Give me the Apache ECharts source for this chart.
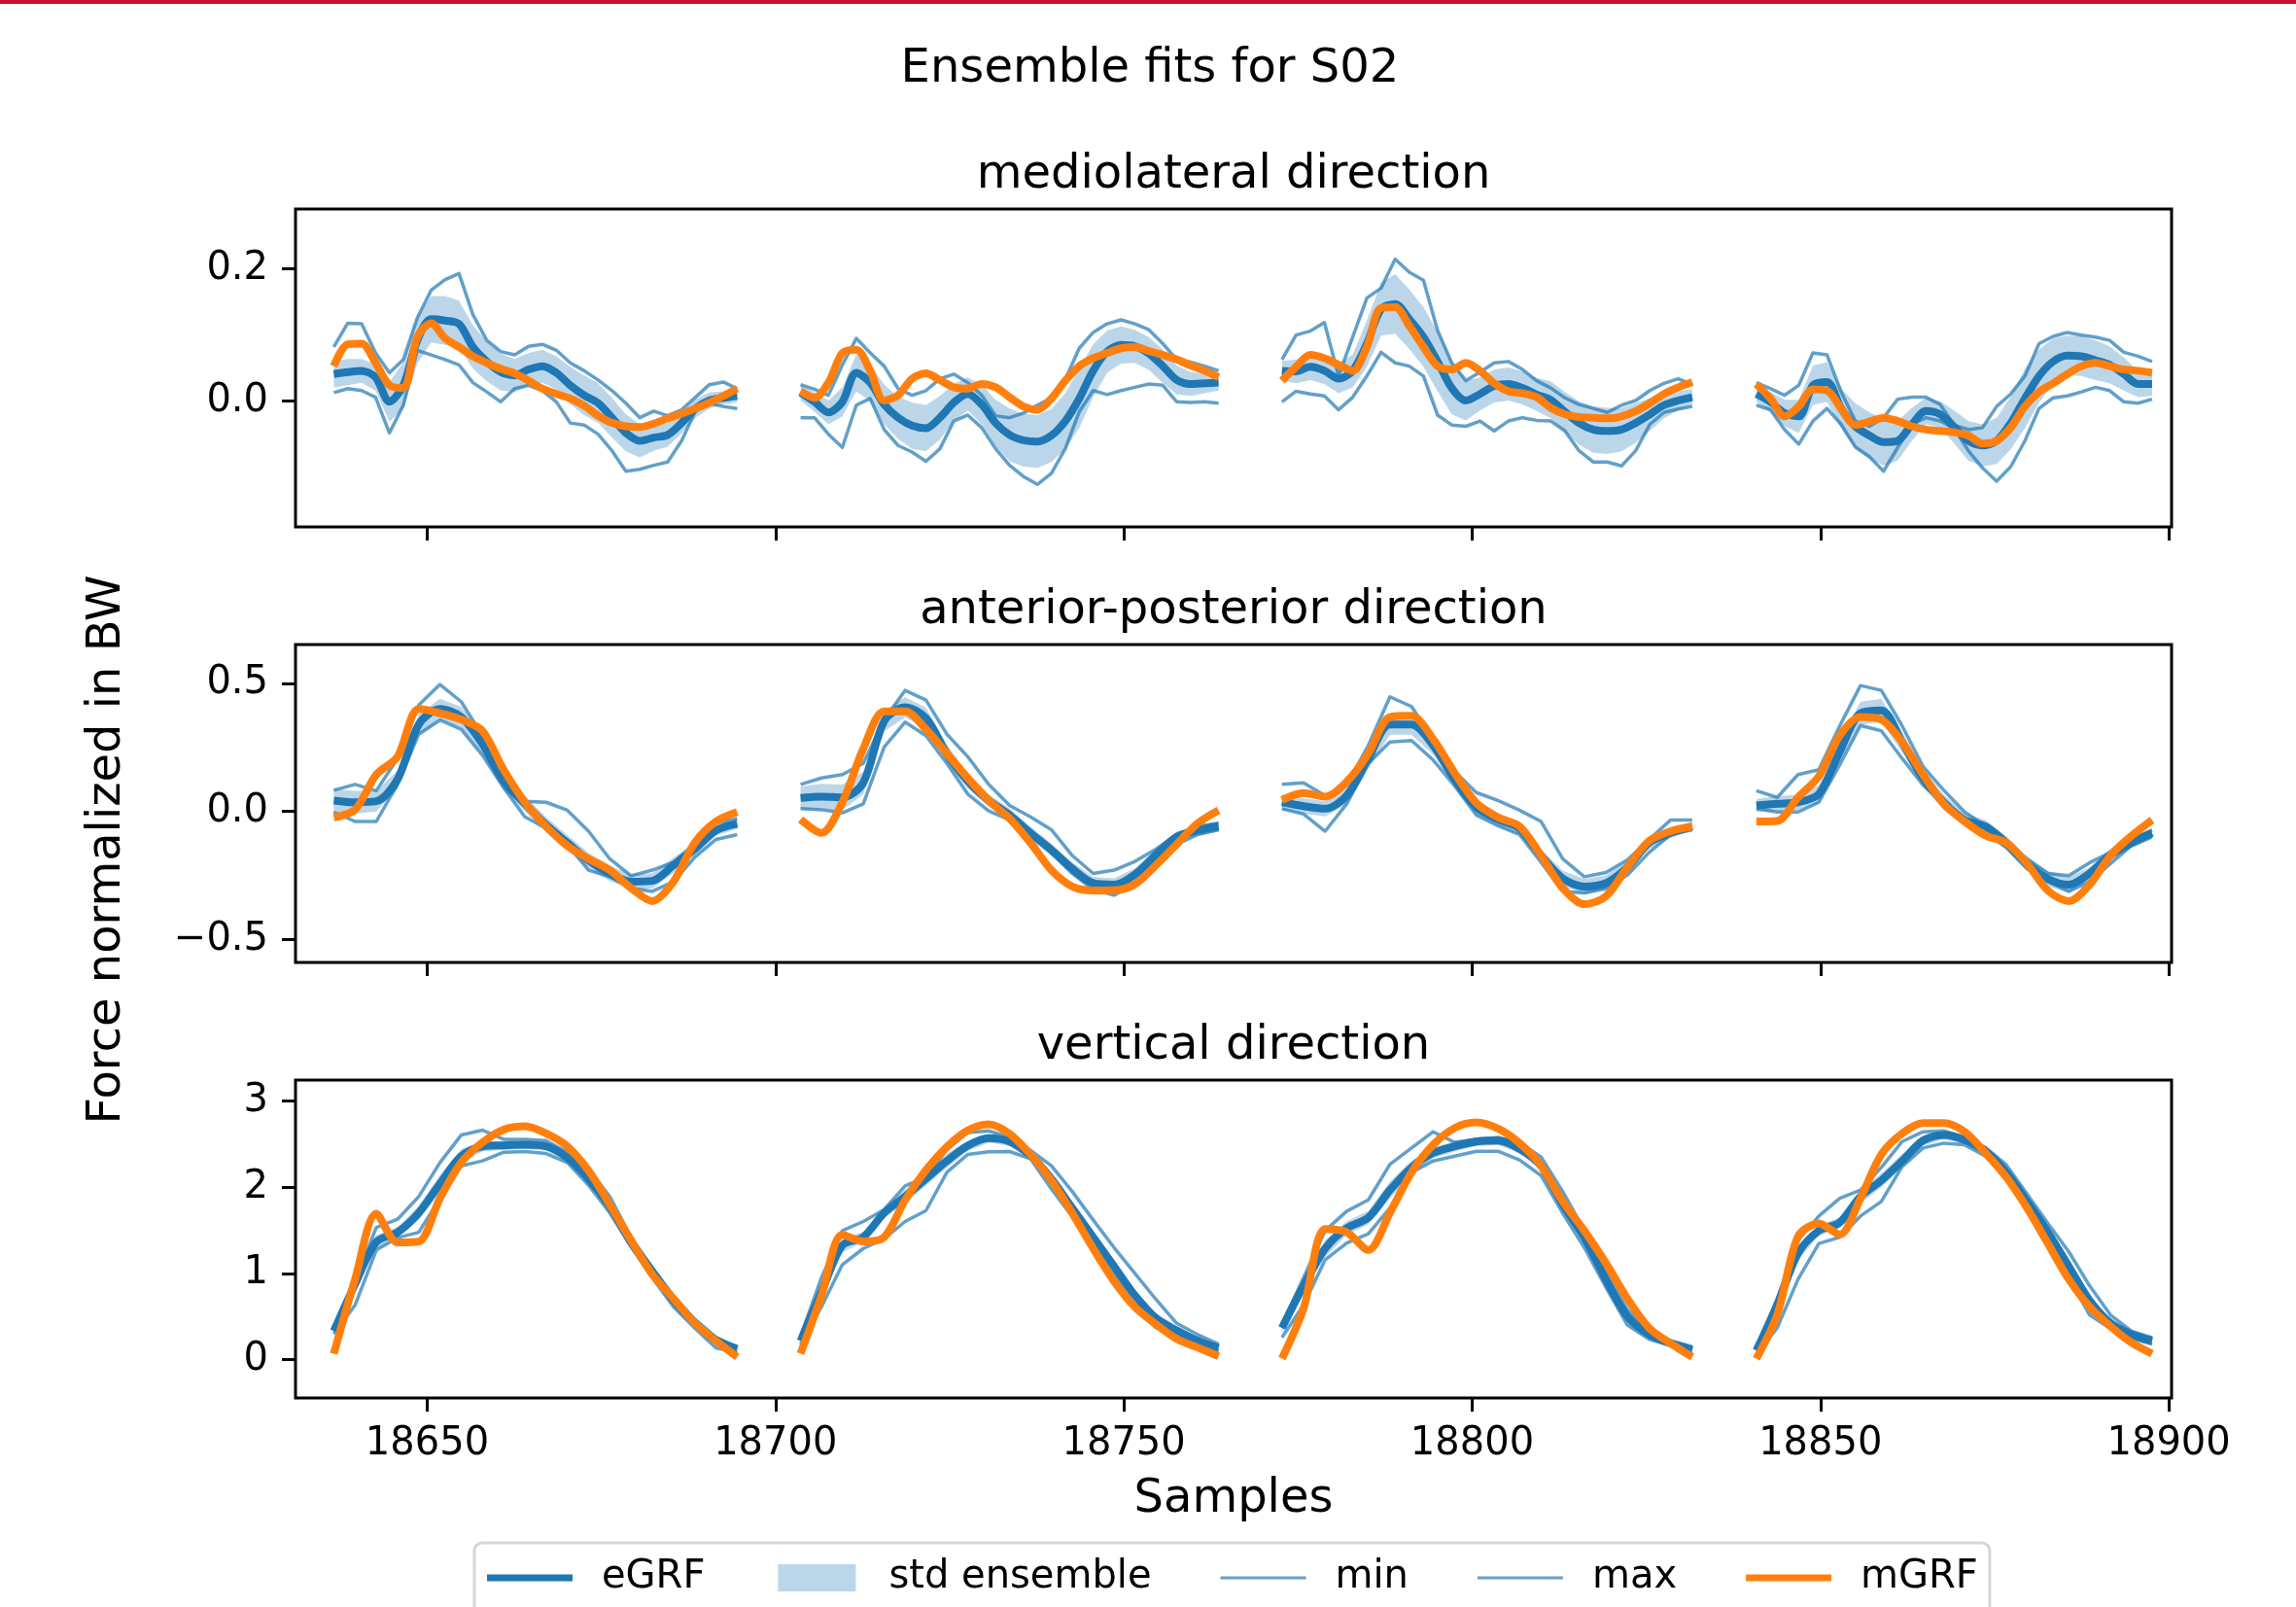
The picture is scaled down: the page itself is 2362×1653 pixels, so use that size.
<!DOCTYPE html>
<html><head><meta charset="utf-8">
<script src="https://cdn.jsdelivr.net/npm/echarts@6/dist/echarts.min.js"></script>
<style>html,body{margin:0;padding:0;background:#fff}#c{width:2362px;height:1653px}</style>
</head><body><div id="c"></div>
<script>
// ---------- sample ranges of the four gait cycles ----------
const cycleStart = [18636.6, 18703.6, 18772.7, 18840.8];
const cycleEnd   = [18694.5, 18763.6, 18831.6, 18897.6];
const xTicks = [18650, 18700, 18750, 18800, 18850, 18900];
const mlTicks = [0, 0.2];
const apTicks = [-0.5, 0, 0.5];
const vtTicks = [0, 1, 2, 3];

// ---------- mediolateral ----------
const ml_c1_eGRF = [0.041,0.044,0.046,0.036,-0.001,0.024,0.092,0.124,0.122,0.117,0.082,0.060,0.044,0.039,0.048,0.053,0.043,0.024,0.009,-0.003,-0.025,-0.048,-0.060,-0.055,-0.051,-0.033,-0.011,0.001,0.005,0.008];
const ml_c1_std  = [0.020,0.020,0.018,0.020,0.030,0.035,0.035,0.035,0.037,0.035,0.033,0.030,0.028,0.025,0.025,0.025,0.025,0.028,0.030,0.030,0.030,0.028,0.025,0.020,0.018,0.016,0.014,0.012,0.010,0.010];
const ml_c1_min  = [0.013,0.019,0.016,0.006,-0.048,-0.006,0.077,0.070,0.063,0.055,0.028,0.014,-0.001,0.019,0.024,0.016,-0.001,-0.033,-0.036,-0.050,-0.075,-0.106,-0.103,-0.097,-0.092,-0.060,-0.015,-0.003,-0.008,-0.011];
const ml_c1_max  = [0.082,0.118,0.117,0.073,0.043,0.063,0.126,0.168,0.184,0.193,0.131,0.092,0.075,0.070,0.083,0.086,0.077,0.058,0.046,0.032,0.016,-0.003,-0.025,-0.015,-0.022,-0.013,0.006,0.025,0.029,0.019];
const ml_c1_mGRF = [0.053,0.086,0.087,0.058,0.024,0.020,0.097,0.118,0.095,0.082,0.068,0.058,0.049,0.042,0.031,0.019,0.011,0.004,-0.007,-0.022,-0.033,-0.038,-0.039,-0.034,-0.026,-0.019,-0.011,-0.002,0.008,0.019];

const ml_c2_eGRF = [0.013,-0.001,-0.017,-0.001,0.043,0.028,-0.005,-0.025,-0.037,-0.041,-0.025,-0.002,0.011,-0.005,-0.033,-0.051,-0.059,-0.061,-0.052,-0.030,0.004,0.046,0.075,0.085,0.083,0.072,0.053,0.032,0.026,0.027,0.028];
const ml_c2_std  = [0.012,0.015,0.018,0.022,0.028,0.028,0.030,0.032,0.035,0.035,0.033,0.028,0.025,0.030,0.035,0.040,0.040,0.040,0.040,0.042,0.045,0.040,0.032,0.028,0.025,0.025,0.025,0.022,0.018,0.015,0.012];
const ml_c2_min  = [-0.025,-0.025,-0.050,-0.070,-0.006,0.004,-0.043,-0.067,-0.077,-0.091,-0.072,-0.030,-0.021,-0.040,-0.072,-0.097,-0.114,-0.126,-0.109,-0.072,-0.016,0.016,0.010,0.016,0.021,0.026,0.024,-0.001,-0.002,-0.001,-0.003];
const ml_c2_max  = [0.025,0.018,0.009,0.055,0.095,0.073,0.053,0.019,0.009,0.016,0.034,0.041,0.028,0.009,-0.022,-0.025,-0.018,-0.006,0.005,0.033,0.080,0.104,0.117,0.123,0.117,0.108,0.087,0.063,0.059,0.053,0.046];
const ml_c2_mGRF = [0.015,0.005,0.028,0.073,0.078,0.046,0.001,0.009,0.034,0.042,0.032,0.021,0.019,0.026,0.021,0.006,-0.008,-0.013,0.004,0.031,0.053,0.065,0.073,0.080,0.082,0.076,0.070,0.063,0.054,0.046,0.036];

const ml_c3_eGRF = [0.046,0.045,0.052,0.046,0.034,0.046,0.087,0.139,0.147,0.124,0.097,0.060,0.020,0.001,0.011,0.023,0.026,0.020,0.010,0.002,-0.016,-0.033,-0.043,-0.045,-0.043,-0.033,-0.020,-0.006,0.001,0.006];
const ml_c3_std  = [0.015,0.018,0.020,0.020,0.022,0.025,0.035,0.040,0.045,0.045,0.045,0.045,0.040,0.030,0.025,0.025,0.025,0.025,0.025,0.028,0.030,0.033,0.035,0.035,0.033,0.030,0.025,0.020,0.015,0.012];
const ml_c3_min  = [-0.001,0.015,0.011,0.008,-0.013,0.006,0.038,0.074,0.058,0.053,0.038,-0.021,-0.036,-0.038,-0.030,-0.045,-0.030,-0.025,-0.029,-0.030,-0.045,-0.075,-0.092,-0.092,-0.098,-0.075,-0.035,-0.017,-0.012,-0.008];
const ml_c3_max  = [0.063,0.100,0.106,0.119,0.038,0.097,0.156,0.171,0.215,0.195,0.183,0.107,0.058,0.031,0.044,0.058,0.060,0.048,0.031,0.020,0.005,-0.005,-0.011,-0.017,-0.006,0.001,0.016,0.027,0.034,0.025];
const ml_c3_mGRF = [0.031,0.052,0.070,0.065,0.055,0.046,0.082,0.141,0.142,0.114,0.082,0.053,0.048,0.058,0.046,0.027,0.015,0.012,0.006,-0.010,-0.020,-0.024,-0.025,-0.026,-0.023,-0.015,-0.003,0.011,0.021,0.029];

const ml_c4_eGRF = [0.011,-0.001,-0.018,-0.023,0.024,0.029,-0.011,-0.038,-0.052,-0.062,-0.060,-0.035,-0.015,-0.020,-0.039,-0.060,-0.067,-0.060,-0.033,0.004,0.038,0.060,0.069,0.068,0.062,0.055,0.041,0.026,0.026];
const ml_c4_std  = [0.012,0.015,0.020,0.025,0.030,0.030,0.030,0.035,0.035,0.035,0.030,0.025,0.020,0.020,0.025,0.030,0.032,0.035,0.040,0.045,0.040,0.035,0.030,0.030,0.030,0.028,0.025,0.020,0.018];
const ml_c4_min  = [-0.006,-0.013,-0.043,-0.065,-0.030,-0.011,-0.035,-0.069,-0.084,-0.106,-0.070,-0.035,-0.025,-0.030,-0.041,-0.075,-0.101,-0.121,-0.099,-0.060,-0.011,0.005,0.008,0.014,0.021,0.016,-0.001,-0.003,0.003];
const ml_c4_max  = [0.028,0.019,0.009,0.024,0.073,0.070,0.014,-0.030,-0.038,-0.025,0.003,0.006,0.006,-0.005,-0.036,-0.043,-0.040,-0.008,0.011,0.038,0.087,0.098,0.104,0.100,0.097,0.092,0.074,0.068,0.060];
const ml_c4_mGRF = [0.026,0.004,-0.023,-0.008,0.018,0.016,-0.011,-0.036,-0.031,-0.025,-0.030,-0.038,-0.043,-0.045,-0.047,-0.052,-0.064,-0.060,-0.040,-0.008,0.014,0.027,0.041,0.053,0.058,0.053,0.048,0.046,0.043];

// ---------- anterior-posterior ----------
const ap_c1_eGRF = [0.042,0.035,0.039,0.124,0.339,0.399,0.368,0.263,0.118,0.029,-0.053,-0.123,-0.192,-0.243,-0.275,-0.272,-0.211,-0.148,-0.075,-0.049];
const ap_c1_std  = [0.045,0.045,0.040,0.035,0.040,0.040,0.040,0.040,0.035,0.030,0.030,0.030,0.030,0.030,0.030,0.030,0.030,0.025,0.020,0.020];
const ap_c1_min  = [-0.003,-0.040,-0.040,0.105,0.301,0.356,0.320,0.219,0.092,-0.022,-0.066,-0.129,-0.230,-0.256,-0.300,-0.313,-0.275,-0.180,-0.110,-0.091];
const ap_c1_max  = [0.082,0.105,0.080,0.206,0.415,0.495,0.428,0.295,0.130,0.039,0.035,0.004,-0.078,-0.186,-0.252,-0.230,-0.199,-0.129,-0.047,-0.028];
const ap_c1_mGRF = [-0.024,0.006,0.143,0.213,0.399,0.383,0.358,0.314,0.162,0.035,-0.059,-0.135,-0.186,-0.230,-0.300,-0.351,-0.275,-0.123,-0.040,-0.003];

const ap_c2_eGRF = [0.052,0.057,0.054,0.111,0.352,0.406,0.364,0.225,0.118,0.042,-0.015,-0.085,-0.151,-0.224,-0.281,-0.287,-0.247,-0.171,-0.100,-0.075,-0.059];
const ap_c2_std  = [0.045,0.050,0.050,0.045,0.040,0.040,0.040,0.035,0.030,0.025,0.025,0.025,0.025,0.025,0.025,0.025,0.025,0.025,0.020,0.020,0.020];
const ap_c2_min  = [0.010,0.006,-0.006,0.029,0.251,0.348,0.295,0.187,0.067,0.001,-0.034,-0.095,-0.161,-0.243,-0.306,-0.328,-0.281,-0.218,-0.129,-0.091,-0.072];
const ap_c2_max  = [0.105,0.130,0.143,0.187,0.358,0.472,0.434,0.301,0.213,0.105,0.023,-0.022,-0.072,-0.173,-0.243,-0.230,-0.196,-0.148,-0.091,-0.059,-0.047];
const ap_c2_mGRF = [-0.032,-0.085,0.035,0.244,0.390,0.390,0.320,0.225,0.130,0.042,-0.028,-0.123,-0.230,-0.294,-0.310,-0.309,-0.285,-0.211,-0.129,-0.047,0.004];

const ap_c3_eGRF = [0.035,0.020,0.010,0.061,0.206,0.339,0.339,0.257,0.124,0.016,-0.032,-0.066,-0.173,-0.262,-0.294,-0.281,-0.218,-0.123,-0.085,-0.059];
const ap_c3_std  = [0.030,0.030,0.030,0.035,0.040,0.040,0.040,0.035,0.030,0.030,0.025,0.025,0.025,0.030,0.030,0.030,0.025,0.025,0.020,0.015];
const ap_c3_min  = [0.010,-0.011,-0.078,0.029,0.187,0.270,0.276,0.200,0.099,-0.015,-0.057,-0.091,-0.199,-0.313,-0.319,-0.300,-0.249,-0.161,-0.091,-0.072];
const ap_c3_max  = [0.105,0.111,0.061,0.103,0.257,0.447,0.409,0.282,0.156,0.073,0.042,0.004,-0.040,-0.186,-0.256,-0.239,-0.190,-0.110,-0.034,-0.034];
const ap_c3_mGRF = [0.044,0.071,0.057,0.115,0.225,0.368,0.373,0.282,0.149,0.032,-0.024,-0.059,-0.173,-0.300,-0.363,-0.332,-0.218,-0.116,-0.078,-0.059];

const ap_c4_eGRF = [0.023,0.029,0.035,0.067,0.232,0.383,0.394,0.270,0.130,0.035,-0.034,-0.059,-0.123,-0.205,-0.264,-0.287,-0.243,-0.171,-0.123,-0.085];
const ap_c4_std  = [0.025,0.030,0.030,0.035,0.040,0.045,0.045,0.040,0.035,0.030,0.025,0.025,0.025,0.025,0.030,0.030,0.025,0.025,0.020,0.020];
const ap_c4_min  = [0.010,-0.003,-0.003,0.035,0.181,0.335,0.314,0.206,0.103,0.029,-0.047,-0.085,-0.142,-0.225,-0.275,-0.313,-0.275,-0.205,-0.135,-0.100];
const ap_c4_max  = [0.080,0.054,0.143,0.162,0.333,0.491,0.472,0.333,0.175,0.082,-0.003,-0.057,-0.120,-0.186,-0.243,-0.252,-0.201,-0.161,-0.110,-0.075];
const ap_c4_mGRF = [-0.040,-0.038,0.054,0.137,0.295,0.368,0.358,0.270,0.143,0.029,-0.040,-0.095,-0.123,-0.205,-0.310,-0.351,-0.287,-0.173,-0.097,-0.034];

// ---------- vertical ----------
const vt_c1_eGRF = [0.331,0.876,1.365,1.477,1.703,2.041,2.361,2.474,2.485,2.492,2.474,2.342,2.098,1.778,1.365,1.026,0.688,0.425,0.226,0.124];
const vt_c1_std  = [0.05,0.08,0.08,0.06,0.08,0.10,0.08,0.06,0.05,0.05,0.05,0.05,0.06,0.06,0.06,0.06,0.06,0.05,0.05,0.05];
const vt_c1_min  = [0.300,0.632,1.271,1.414,1.477,1.872,2.248,2.305,2.406,2.414,2.391,2.286,2.023,1.703,1.308,0.951,0.613,0.368,0.135,0.086];
const vt_c1_max  = [0.368,0.914,1.534,1.628,1.891,2.286,2.605,2.662,2.556,2.556,2.541,2.406,2.211,1.891,1.421,1.064,0.740,0.470,0.260,0.140];
const vt_c1_mGRF = [0.068,0.932,1.692,1.360,1.370,1.872,2.286,2.519,2.669,2.707,2.624,2.474,2.192,1.797,1.383,0.989,0.707,0.425,0.218,0.030];

const vt_c2_eGRF = [0.218,0.782,1.327,1.421,1.703,1.891,2.098,2.305,2.481,2.568,2.530,2.368,2.098,1.759,1.421,1.083,0.744,0.481,0.338,0.218,0.135];
const vt_c2_std  = [0.05,0.08,0.08,0.06,0.06,0.08,0.08,0.08,0.06,0.05,0.05,0.05,0.05,0.06,0.06,0.06,0.06,0.06,0.05,0.05,0.04];
const vt_c2_min  = [0.173,0.613,1.102,1.289,1.402,1.602,1.729,2.173,2.380,2.410,2.414,2.331,1.980,1.660,1.320,0.980,0.620,0.370,0.270,0.170,0.100];
const vt_c2_max  = [0.274,0.951,1.496,1.602,1.741,2.015,2.117,2.436,2.635,2.654,2.579,2.429,2.250,1.950,1.620,1.300,1.000,0.700,0.420,0.290,0.180];
const vt_c2_mGRF = [0.070,0.740,1.450,1.370,1.420,1.850,2.200,2.470,2.660,2.730,2.620,2.380,2.080,1.700,1.290,0.910,0.610,0.410,0.240,0.140,0.040];

const vt_c3_eGRF = [0.368,0.857,1.289,1.526,1.647,1.966,2.229,2.398,2.474,2.530,2.541,2.444,2.248,1.800,1.420,0.930,0.500,0.293,0.188,0.113];
const vt_c3_std  = [0.06,0.08,0.10,0.08,0.08,0.10,0.08,0.06,0.06,0.05,0.05,0.05,0.05,0.06,0.06,0.06,0.06,0.05,0.04,0.03];
const vt_c3_min  = [0.256,0.632,1.158,1.353,1.459,1.759,2.173,2.305,2.361,2.417,2.417,2.316,2.135,1.700,1.300,0.840,0.400,0.237,0.162,0.068];
const vt_c3_max  = [0.406,0.950,1.496,1.722,1.853,2.267,2.455,2.643,2.520,2.556,2.579,2.520,2.350,1.950,1.500,1.020,0.580,0.340,0.220,0.150];
const vt_c3_mGRF = [0.011,0.594,1.515,1.477,1.271,1.703,2.173,2.492,2.688,2.752,2.680,2.511,2.248,1.835,1.496,1.120,0.707,0.368,0.188,0.030];

const vt_c4_eGRF = [0.105,0.632,1.233,1.496,1.590,1.891,2.079,2.305,2.541,2.605,2.549,2.417,2.173,1.835,1.477,1.083,0.688,0.425,0.293,0.218];
const vt_c4_std  = [0.04,0.08,0.08,0.06,0.06,0.08,0.08,0.08,0.06,0.05,0.05,0.05,0.06,0.06,0.06,0.06,0.06,0.05,0.05,0.05];
const vt_c4_min  = [0.060,0.368,0.932,1.346,1.421,1.665,1.835,2.240,2.455,2.511,2.492,2.361,2.100,1.759,1.383,0.951,0.519,0.361,0.248,0.180];
const vt_c4_max  = [0.143,0.707,1.383,1.665,1.872,1.966,2.229,2.530,2.643,2.654,2.579,2.460,2.260,1.920,1.580,1.252,0.857,0.519,0.331,0.256];
const vt_c4_mGRF = [0.011,0.519,1.429,1.579,1.451,1.872,2.380,2.624,2.744,2.744,2.643,2.398,2.117,1.759,1.346,0.932,0.613,0.387,0.199,0.068];

// ---------- assemble ----------
const panels = [
  {title:'mediolateral direction', top:215, yMin:-0.1902, yMax:0.2907, ticks:mlTicks, fmt:v=>v.toFixed(1).replace('-','\u2212'),
   cycles:[
    {eGRF:ml_c1_eGRF,std:ml_c1_std,min:ml_c1_min,max:ml_c1_max,mGRF:ml_c1_mGRF},
    {eGRF:ml_c2_eGRF,std:ml_c2_std,min:ml_c2_min,max:ml_c2_max,mGRF:ml_c2_mGRF},
    {eGRF:ml_c3_eGRF,std:ml_c3_std,min:ml_c3_min,max:ml_c3_max,mGRF:ml_c3_mGRF},
    {eGRF:ml_c4_eGRF,std:ml_c4_std,min:ml_c4_min,max:ml_c4_max,mGRF:ml_c4_mGRF}]},
  {title:'anterior-posterior direction', top:663, yMin:-0.5905, yMax:0.651, ticks:apTicks, fmt:v=>v.toFixed(1).replace('-','\u2212'),
   cycles:[
    {eGRF:ap_c1_eGRF,std:ap_c1_std,min:ap_c1_min,max:ap_c1_max,mGRF:ap_c1_mGRF},
    {eGRF:ap_c2_eGRF,std:ap_c2_std,min:ap_c2_min,max:ap_c2_max,mGRF:ap_c2_mGRF},
    {eGRF:ap_c3_eGRF,std:ap_c3_std,min:ap_c3_min,max:ap_c3_max,mGRF:ap_c3_mGRF},
    {eGRF:ap_c4_eGRF,std:ap_c4_std,min:ap_c4_min,max:ap_c4_max,mGRF:ap_c4_mGRF}]},
  {title:'vertical direction', top:1111, yMin:-0.445, yMax:3.243, ticks:vtTicks, fmt:v=>String(Math.round(v)),
   cycles:[
    {eGRF:vt_c1_eGRF,std:vt_c1_std,min:vt_c1_min,max:vt_c1_max,mGRF:vt_c1_mGRF},
    {eGRF:vt_c2_eGRF,std:vt_c2_std,min:vt_c2_min,max:vt_c2_max,mGRF:vt_c2_mGRF},
    {eGRF:vt_c3_eGRF,std:vt_c3_std,min:vt_c3_min,max:vt_c3_max,mGRF:vt_c3_mGRF},
    {eGRF:vt_c4_eGRF,std:vt_c4_std,min:vt_c4_min,max:vt_c4_max,mGRF:vt_c4_mGRF}]}
];

const FONT = "'DejaVu Sans', sans-serif";
const C_EGRF = '#1f77b4', C_BAND = '#bcd6e9', C_THIN = 'rgba(31,119,180,0.7)', C_THIN_LEG = '#62a0ca', C_MGRF = '#ff7f0e';
const GRID_LEFT = 304, GRID_W = 1930, GRID_H = 327;
const X_MIN = 18631.1, X_MAX = 18900.4;

function xPositions(ci, n) {
  const s = cycleStart[ci], e = cycleEnd[ci];
  const out = [];
  for (let i = 0; i < n; i++) out.push(s + (e - s) * i / (n - 1));
  return out;
}

const grids = [], xAxes = [], yAxes = [], series = [];
panels.forEach((p, pi) => {
  grids.push({left:GRID_LEFT, top:p.top, width:GRID_W, height:GRID_H, show:true, borderColor:'#000', borderWidth:3, backgroundColor:'rgba(0,0,0,0)', containLabel:false});
  xAxes.push({type:'value', gridIndex:pi, min:X_MIN, max:X_MAX, position:'bottom',
    axisLine:{show:false, onZero:false}, splitLine:{show:false},
    axisTick:{show:true, inside:false, length:14, lineStyle:{color:'#000', width:3}, customValues:xTicks},
    axisLabel:{show:pi === 2, margin:28, fontSize:40, fontFamily:FONT, color:'#000', customValues:xTicks, formatter:v=>String(v)}});
  yAxes.push({type:'value', gridIndex:pi, min:p.yMin, max:p.yMax, position:'left',
    axisLine:{show:false, onZero:false}, splitLine:{show:false},
    axisTick:{show:true, inside:false, length:14, lineStyle:{color:'#000', width:3}, customValues:p.ticks},
    axisLabel:{show:true, margin:28, fontSize:40, fontFamily:FONT, color:'#000', customValues:p.ticks, formatter:p.fmt}});
  p.cycles.forEach((cy, ci) => {
    const n = cy.eGRF.length;
    const x = xPositions(ci, n);
    const lo = cy.eGRF.map((m, i) => m - cy.std[i]);
    const hi = cy.eGRF.map((m, i) => m + cy.std[i]);
    const pts = arr => arr.map((v, i) => [x[i], v]);
    const common = {xAxisIndex:pi, yAxisIndex:pi, animation:false, silent:true};
    // std ensemble band, drawn as one polygon through the axes' coordinate system
    series.push(Object.assign({}, common, {type:'custom', name:'std ensemble', z:1, color:C_BAND, clip:true,
      data: x.map((xv, i) => [xv, lo[i], hi[i]]),
      encode:{x:0, y:[1, 2]},
      renderItem:(params, api) => {
        if (params.dataIndex !== 0) return null;
        const top = [], bot = [];
        for (let i = 0; i < n; i++) { top.push(api.coord([x[i], hi[i]])); bot.push(api.coord([x[i], lo[i]])); }
        return {type:'polygon', shape:{points: top.concat(bot.reverse())}, style:{fill:C_BAND, stroke:null}};
      }}));
    const lineCommon = Object.assign({}, common, {type:'line', symbol:'none', showSymbol:false});
    series.push(Object.assign({}, lineCommon, {name:'min', z:2, color:C_THIN, data: pts(cy.min), lineStyle:{width:3.5, color:C_THIN, join:'round'}}));
    series.push(Object.assign({}, lineCommon, {name:'max', z:2, color:C_THIN, data: pts(cy.max), lineStyle:{width:3.5, color:C_THIN, join:'round'}}));
    series.push(Object.assign({}, lineCommon, {name:'eGRF', z:3, color:C_EGRF, smooth:0.3, data: pts(cy.eGRF), lineStyle:{width:8, color:C_EGRF, join:'round'}}));
    series.push(Object.assign({}, lineCommon, {name:'mGRF', z:4, color:C_MGRF, smooth:0.3, data: pts(cy.mGRF), lineStyle:{width:8, color:C_MGRF, join:'round'}}));
  });
});

const barIcon = h => 'path://M0,0L0.01,0M0,' + (14 - h / 2) + 'L88,' + (14 - h / 2) + 'L88,' + (14 + h / 2) + 'L0,' + (14 + h / 2) + 'ZM88,28L87.99,28';
const rectIcon = 'path://M0,0L0.01,0M4,0L84,0L84,28L4,28ZM88,28L87.99,28';

const graphic = [
  {type:'rect', shape:{x:0, y:0, width:2362, height:4}, style:{fill:'#c8102e'}, silent:true},
  {type:'text', x:1183, y:72, style:{text:'Ensemble fits for S02', align:'center', verticalAlign:'middle', fontSize:48, fontFamily:FONT, fill:'#000'}},
  {type:'text', x:111, y:874, rotation:Math.PI / 2, style:{text:'Force normalized in BW', align:'center', verticalAlign:'middle', fontSize:48, fontFamily:FONT, fill:'#000'}},
  {type:'text', x:1269, y:1543, style:{text:'Samples', align:'center', verticalAlign:'middle', fontSize:48, fontFamily:FONT, fill:'#000'}}
];
panels.forEach(p => graphic.push({type:'text', x:GRID_LEFT + GRID_W / 2, y:p.top - 34,
  style:{text:p.title, align:'center', verticalAlign:'middle', fontSize:48, fontFamily:FONT, fill:'#000'}}));

const chart = echarts.init(document.getElementById('c'), null, {renderer:'canvas', width:2362, height:1653});
chart.setOption({
  backgroundColor:'#fff',
  animation:false,
  grid:grids, xAxis:xAxes, yAxis:yAxes, series:series, graphic:graphic,
  legend:{
    left:488, top:1587, orient:'horizontal', selectedMode:false,
    itemWidth:88, itemHeight:28, itemGap:71,
    padding:[16, 12, 60, 13],
    borderColor:'#d6d6d6', borderWidth:3, borderRadius:8, backgroundColor:'#fff',
    textStyle:{fontSize:40, fontFamily:FONT, color:'#000', padding:[0, 0, 0, 25]},
    data:[
      {name:'eGRF', icon:barIcon(7), itemStyle:{color:C_EGRF, borderWidth:0}},
      {name:'std ensemble', icon:rectIcon, itemStyle:{color:C_BAND, borderWidth:0}},
      {name:'min', icon:barIcon(3), itemStyle:{color:C_THIN_LEG, borderWidth:0}},
      {name:'max', icon:barIcon(3), itemStyle:{color:C_THIN_LEG, borderWidth:0}},
      {name:'mGRF', icon:barIcon(7), itemStyle:{color:C_MGRF, borderWidth:0}}
    ]
  }
});
</script></body></html>
